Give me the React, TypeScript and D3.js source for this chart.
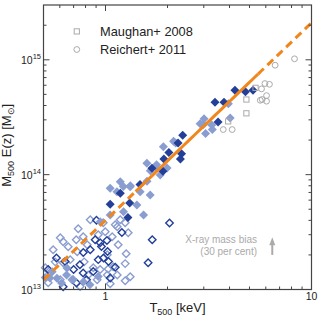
import * as d3 from "d3";

// T500 [keV], M500 E(z) [1e14 Msun]
const darkFilled: [number, number][] = [
  [4.25, 5.44], [4.78, 5.26], [5.2, 5.44], [3.4, 4.27], [3.76, 4.27], [3.52, 2.88],
  [2.37, 2.2], [2.25, 1.89], [2.03, 1.56], [2.34, 1.52], [1.92, 1.37], [2.31, 1.37],
  [1.9, 1.07], [1.47, 0.82], [1.18, 0.69], [1.054, 0.553], [1.31, 0.566], [1.285, 0.424],
  [1.68, 1.135],
];

const lightFilled: [number, number][] = [
  [3.95, 4.14], [4.03, 3.12], [3.01, 3.06], [2.99, 2.73], [3.06, 2.28], [3.28, 2.71],
  [3.3, 2.47], [2.88, 2.78], [2.14, 1.95], [2.19, 1.89], [1.77, 1.22], [1.65, 1.08],
  [1.99, 1.14], [1.59, 0.874], [1.22, 0.79], [1.32, 0.8], [1.91, 1.75],
  [1.588, 1.254], [1.776, 1.135], [1.843, 0.994], [1.179, 0.869], [1.054, 0.76],
  [1.136, 0.711], [1.318, 0.786], [1.473, 0.711], [1.648, 0.665], [1.42, 0.544],
  [1.223, 0.476], [1.53, 0.445], [1.054, 0.445], [0.942, 0.389],
  [0.537, 0.126], [0.612, 0.114], [0.697, 0.122], [0.647, 0.134], [0.84, 0.11],
  [0.922, 0.13], [0.581, 0.125], [0.782, 0.117], [0.65, 0.154], [0.51, 0.127], [0.551, 0.143],
];

const darkOpen: [number, number][] = [
  [0.904, 0.4], [0.956, 0.237], [0.922, 0.182], [0.578, 0.188], [0.527, 0.149],
  [0.751, 0.164], [0.779, 0.139], [0.872, 0.1435], [0.809, 0.1216], [0.723, 0.1137],
  [0.623, 0.1056], [1.201, 0.314], [1.016, 0.267], [1.023, 0.214], [0.978, 0.188],
  [1.034, 0.175], [1.686, 0.271], [1.61, 0.171], [2.045, 0.379], [0.843, 0.222],
  [0.891, 0.271], [0.78, 0.21], [1.054, 0.126], [0.7, 0.149], [0.637, 0.175],
  [0.942, 0.255], [1.115, 0.156],
];

const lightOpen: [number, number][] = [
  [0.603, 0.282], [0.623, 0.261], [0.737, 0.338], [0.779, 0.288], [0.843, 0.405],
  [0.975, 0.382], [1.078, 0.288], [1.14, 0.352], [1.246, 0.382], [1.289, 0.312],
  [1.179, 0.405], [1.26, 0.205], [1.246, 0.168], [1.318, 0.129], [1.246, 0.119],
  [1.03, 0.151], [1.115, 0.367], [0.997, 0.318], [0.51, 0.155], [0.623, 0.171],
  [0.603, 0.1216], [0.689, 0.1216], [0.824, 0.134], [0.872, 0.155], [0.911, 0.1216],
  [1.09, 0.158], [1.14, 0.134], [1.02, 0.201], [0.815, 0.245], [0.729, 0.213],
  [0.674, 0.182], [0.557, 0.222], [0.539, 0.14], [1.02, 0.134], [0.659, 0.236],
  [0.57, 0.174], [0.922, 0.3], [1.152, 0.245], [0.527, 0.1145], [0.753, 0.106],
  [0.942, 0.149], [0.788, 0.174], [1.054, 0.112], [0.721, 0.271],
];

const maughan: [number, number][] = [
  [5.35, 5.7], [4.83, 4.51], [4.83, 3.42], [3.94, 2.91],
];

const reichert: [number, number][] = [
  [6.66, 8.97], [8.27, 10.2], [5.94, 6.21], [6.25, 6.12], [5.72, 5.58], [6.05, 4.88],
  [5.64, 4.44], [5.76, 4.51], [6.05, 4.36], [3.73, 2.47], [4.12, 2.47],
];

// best fit: M = norm * T^slope, solid over the fitted range
const fitNorm = 4.0e13;
const fitSlope = 1.72;
const fitRange = [1.4, 5.5];

const xDomain = [0.5, 10];
const yDomain = [1e13, 3e15];
const xMajor = [1, 10];
const yMajor = [13, 14, 15];

const biasT = 6.45;
const biasM = 2.0e13;
const biasFactor = 1 / 0.7;

const DARK = "#233f98";
const LIGHT = "#8a9dd0";
const GREY = "#aaaaaa";
const ORANGE = "#f0861c";
const FONT = "'Liberation Sans', Arial, Helvetica, sans-serif";

export default function App() {
  const width = 324;
  const height = 324;
  const left = 43.5, right = 311.5, top = 5, bottom = 289.5;

  const x = d3.scaleLog().domain(xDomain).range([left, right]);
  const y = d3.scaleLog().domain(yDomain).range([bottom, top]);

  const xMinor: number[] = [];
  for (const d of [0.1, 1]) for (let k = 2; k <= 9; k++) {
    const v = d * k;
    if (v > xDomain[0] && v < xDomain[1]) xMinor.push(v);
  }
  const yMinor: number[] = [];
  for (const e of yMajor) for (let k = 2; k <= 9; k++) {
    const v = k * Math.pow(10, e);
    if (v < yDomain[1]) yMinor.push(v);
  }

  const fitLine = d3.line<number>().x(t => x(t)).y(t => y(fitNorm * Math.pow(t, fitSlope)));
  const lowT = d3.range(0, 41).map(i => xDomain[0] * Math.pow(fitRange[0] / xDomain[0], i / 40));
  const midT = d3.range(0, 41).map(i => fitRange[0] * Math.pow(fitRange[1] / fitRange[0], i / 40));
  const highT = d3.range(0, 41).map(i => fitRange[1] * Math.pow(xDomain[1] / fitRange[1], i / 40));

  const diamond = (s: number) => {
    const h = s / 2;
    return `M0,${-h}L${h},0L0,${h}L${-h},0Z`;
  };

  const px = (d: [number, number]) => x(d[0]);
  const py = (d: [number, number]) => y(d[1] * 1e14);

  const ax = x(biasT);
  const ay0 = y(biasM);
  const ay1 = y(biasM * biasFactor);

  return (
    <svg width={width} height={height} style={{ position: "absolute", left: 0, top: 0 }} fontFamily={FONT}>
      <rect width={width} height={height} fill="#fff" />

      {lightOpen.map((d, i) => (
        <path key={"lo" + i} d={diamond(7.5)} transform={`translate(${px(d)},${py(d)})`} fill="none" stroke={LIGHT} strokeWidth={1.4} />
      ))}
      {darkOpen.map((d, i) => (
        <path key={"do" + i} d={diamond(7.5)} transform={`translate(${px(d)},${py(d)})`} fill="none" stroke={DARK} strokeWidth={1.4} />
      ))}
      {lightFilled.map((d, i) => (
        <path key={"lf" + i} d={diamond(9)} transform={`translate(${px(d)},${py(d)})`} fill={LIGHT} />
      ))}
      {darkFilled.map((d, i) => (
        <path key={"df" + i} d={diamond(9)} transform={`translate(${px(d)},${py(d)})`} fill={DARK} />
      ))}
      {maughan.map((d, i) => (
        <rect key={"m" + i} x={px(d) - 2.6} y={py(d) - 2.6} width={5.2} height={5.2} fill="none" stroke={GREY} strokeWidth={1} />
      ))}
      {reichert.map((d, i) => (
        <circle key={"r" + i} cx={px(d)} cy={py(d)} r={2.9} fill="none" stroke={GREY} strokeWidth={1} />
      ))}

      <path d={fitLine(lowT) || ""} fill="none" stroke={ORANGE} strokeWidth={3} strokeDasharray="8,5" />
      <path d={fitLine(midT) || ""} fill="none" stroke={ORANGE} strokeWidth={3} />
      <path d={fitLine(highT) || ""} fill="none" stroke={ORANGE} strokeWidth={3} strokeDasharray="8,5" />

      {/* frame and ticks */}
      <rect x={left} y={top} width={right - left} height={bottom - top} fill="none" stroke="#444" strokeWidth={1.2} />
      {xMajor.map(v => (
        <g key={"xM" + v}>
          <line x1={x(v)} x2={x(v)} y1={bottom} y2={bottom - 6} stroke="#444" />
          <line x1={x(v)} x2={x(v)} y1={top} y2={top + 6} stroke="#444" />
          <text x={x(v)} y={300} textAnchor="middle" fontSize={10.5} fill="#222">{v}</text>
        </g>
      ))}
      {xMinor.map(v => (
        <g key={"xm" + v}>
          <line x1={x(v)} x2={x(v)} y1={bottom} y2={bottom - 3} stroke="#444" />
          <line x1={x(v)} x2={x(v)} y1={top} y2={top + 3} stroke="#444" />
        </g>
      ))}
      {yMajor.map(e => (
        <g key={"yM" + e}>
          <line x1={left} x2={left + 6} y1={y(Math.pow(10, e))} y2={y(Math.pow(10, e))} stroke="#444" />
          <line x1={right} x2={right - 6} y1={y(Math.pow(10, e))} y2={y(Math.pow(10, e))} stroke="#444" />
          <text x={41} y={y(Math.pow(10, e)) + 4} textAnchor="end" fontSize={10.5} fill="#222">
            10<tspan dy={-4.5} fontSize={7.5}>{e}</tspan>
          </text>
        </g>
      ))}
      {yMinor.map(v => (
        <g key={"ym" + v}>
          <line x1={left} x2={left + 3} y1={y(v)} y2={y(v)} stroke="#444" />
          <line x1={right} x2={right - 3} y1={y(v)} y2={y(v)} stroke="#444" />
        </g>
      ))}

      {/* axis titles */}
      <text x={(left + right) / 2} y={312} textAnchor="middle" fontSize={13} fill="#222">
        T<tspan dy={2.5} fontSize={9}>500</tspan><tspan dy={-2.5}> [keV]</tspan>
      </text>
      <text transform={`translate(11,${(top + bottom) / 2 - 2}) rotate(-90)`} textAnchor="middle" fontSize={13} fill="#222">
        M<tspan dy={2.5} fontSize={9}>500</tspan><tspan dy={-2.5}> E(z) [M</tspan><tspan dy={2.5} fontSize={9}>⊙</tspan><tspan dy={-2.5}>]</tspan>
      </text>

      {/* legend */}
      <rect x={74.2} y={28.8} width={5.2} height={5.2} fill="none" stroke={GREY} strokeWidth={1} />
      <text x={100} y={36} fontSize={12.8} fill="#222">Maughan+ 2008</text>
      <circle cx={76.8} cy={49.5} r={2.9} fill="none" stroke={GREY} strokeWidth={1} />
      <text x={100} y={54} fontSize={12.8} fill="#222">Reichert+ 2011</text>

      {/* mass bias annotation */}
      <text x={257} y={243} textAnchor="end" fontSize={10} fill={GREY}>X-ray mass bias</text>
      <text x={257} y={255} textAnchor="end" fontSize={10} fill={GREY}>(30 per cent)</text>
      <line x1={ax} x2={ax} y1={ay0} y2={ay1 + 7} stroke={GREY} strokeWidth={2} />
      <path d={`M${ax},${ay1}L${ax + 3},${ay1 + 8}L${ax - 3},${ay1 + 8}Z`} fill={GREY} />
    </svg>
  );
}
